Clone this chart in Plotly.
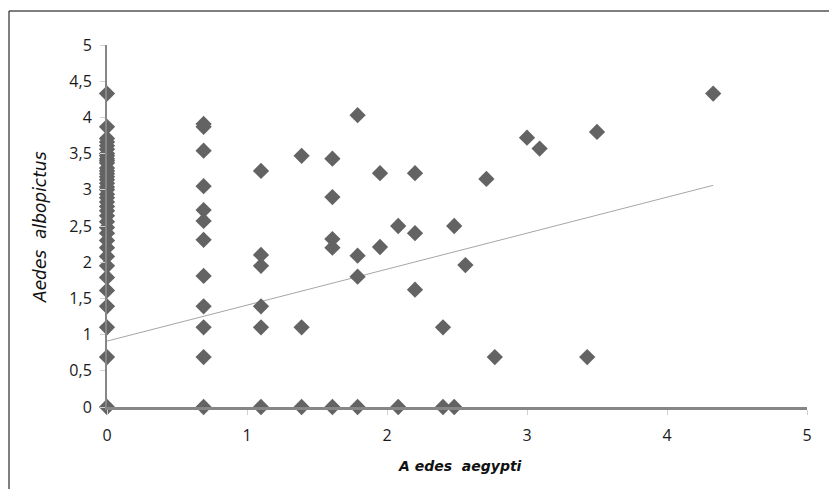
import plotly.graph_objects as go

# Data (log-transformed counts)
col0_y = [0, 0.69, 1.10, 1.39, 1.61, 1.79, 1.95, 2.08, 2.20, 2.30, 2.40, 2.48,
          2.56, 2.64, 2.71, 2.77, 2.83, 2.89, 2.94, 3.00, 3.04, 3.09, 3.14,
          3.18, 3.22, 3.26, 3.30, 3.37, 3.40, 3.43, 3.47, 3.50, 3.56, 3.61,
          3.66, 3.71, 3.87, 4.33]

other_x = [0.69, 0.69, 0.69, 0.69, 0.69, 0.69, 0.69, 0.69, 0.69, 0.69, 0.69, 0.69,
           1.10, 1.10, 1.10, 1.10, 1.10, 1.10,
           1.39, 1.39, 1.39,
           1.61, 1.61, 1.61, 1.61, 1.61,
           1.79, 1.79, 1.79, 1.79,
           1.95, 1.95,
           2.08, 2.08,
           2.20, 2.20, 2.20,
           2.40, 2.40,
           2.48, 2.48,
           2.56, 2.71, 2.77, 3.00, 3.09, 3.43, 3.50, 4.33]
other_y = [3.91, 3.87, 3.54, 3.05, 2.72, 2.57, 2.31, 1.81, 1.39, 1.10, 0.69, 0,
           3.26, 2.10, 1.95, 1.39, 1.10, 0,
           3.47, 1.10, 0,
           3.43, 2.90, 2.32, 2.20, 0,
           4.03, 2.09, 1.80, 0,
           3.23, 2.21,
           2.50, 0,
           3.23, 2.40, 1.62,
           1.10, 0,
           2.50, 0,
           1.96, 3.15, 0.69, 3.72, 3.57, 0.69, 3.80, 4.33]

aegypti = [0.0] * len(col0_y) + other_x
albopictus = col0_y + other_y

# Linear trend line coefficients
trend_intercept = 0.91
trend_slope = 0.497

x_ticks = [0, 1, 2, 3, 4, 5]
y_ticks = [0, 0.5, 1, 1.5, 2, 2.5, 3, 3.5, 4, 4.5, 5]
y_ticktext = ["0", "0,5", "1", "1,5", "2", "2,5", "3", "3,5", "4", "4,5", "5"]

x_title = "A edes  aegypti"
y_title = "Aedes  albopictus"

tx = [min(aegypti), max(aegypti)]
ty = [trend_intercept + trend_slope * v for v in tx]

fig = go.Figure()
fig.add_trace(go.Scatter(x=tx, y=ty, mode="lines",
                         line=dict(color="#a6a6a6", width=1),
                         hoverinfo="skip", showlegend=False, cliponaxis=False))
fig.add_trace(go.Scatter(x=aegypti, y=albopictus, mode="markers",
                         marker=dict(symbol="diamond", size=12.5, color="#636363",
                                     line=dict(width=0)),
                         showlegend=False, cliponaxis=False))

# The page body has an 8px default margin; the plot area is placed so that
# it lands at 107..807 (x) and 45..407 (y) in the browser window.
W, H = 837, 489
L, T = 99, 37
PW, PH = 700, 362

def px_x(p):
    return (p - 8 - L) / PW

def px_y(p):
    return (T + PH - (p - 8)) / PH

font_family = "Open Sans"
fig.update_layout(
    width=W, height=H,
    margin=dict(l=L, r=W - L - PW, t=T, b=H - T - PH),
    plot_bgcolor="white", paper_bgcolor="white",
    font=dict(family=font_family, size=16, color="#1a1a1a"),
    xaxis=dict(range=[0, 5], tickvals=x_ticks, ticktext=[str(v) for v in x_ticks],
               showgrid=False, zeroline=False, showline=True, automargin=False,
               linecolor="#868686", linewidth=3, ticklabelstandoff=7,
               ticks="outside", ticklen=5, tickcolor="#d0d0d0", tickwidth=1),
    yaxis=dict(range=[0, 5], tickvals=y_ticks, ticktext=y_ticktext,
               showgrid=False, zeroline=False, showline=True, automargin=False,
               linecolor="#868686", linewidth=2, ticklabelstandoff=5,
               ticks="outside", ticklen=5, tickcolor="#d0d0d0", tickwidth=1),
    annotations=[
        dict(text="<b><i>" + x_title + "</i></b>", xref="paper", yref="paper",
             x=px_x(460), y=px_y(466), xanchor="center", yanchor="middle",
             showarrow=False, font=dict(size=14, family="DejaVu Sans", color="#111111")),
        dict(text="<i>" + y_title + "</i>", xref="paper", yref="paper",
             x=px_x(40), y=px_y(227), xanchor="center", yanchor="middle", textangle=-90,
             showarrow=False, font=dict(size=17, family="DejaVu Sans", color="#111111")),
    ],
    shapes=[
        dict(type="line", xref="paper", yref="paper",
             x0=px_x(9), x1=px_x(9), y0=px_y(11), y1=px_y(520),
             line=dict(color="#000000", width=1)),
        dict(type="line", xref="paper", yref="paper",
             x0=px_x(9), x1=px_x(870), y0=px_y(11), y1=px_y(11),
             line=dict(color="#000000", width=1)),
    ],
)

fig.write_html("out.html")
